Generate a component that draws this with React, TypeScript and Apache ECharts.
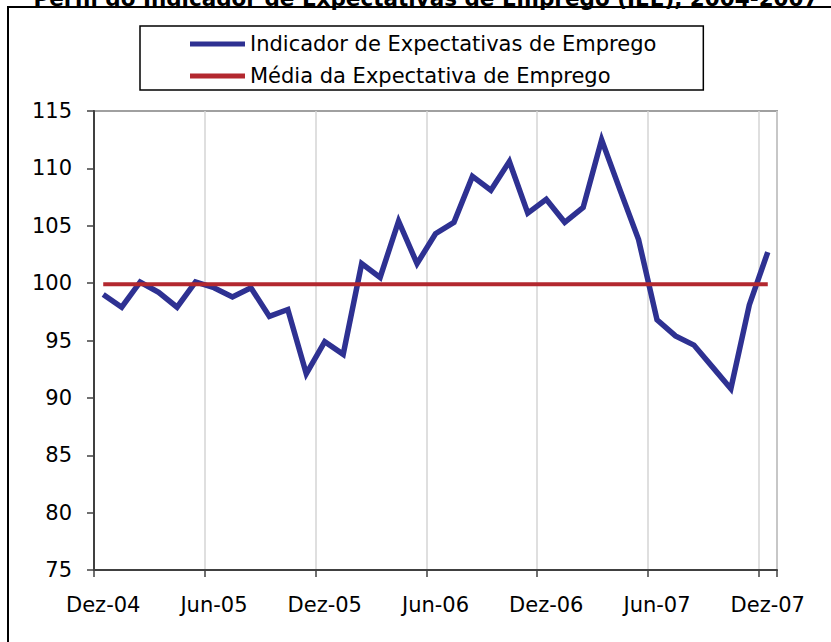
import React, { useEffect, useRef } from "react";
import * as echarts from "echarts";

const TITLE = "Perfil do Indicador de Expectativas de Emprego (IEE), 2004-2007";
const SERIES_NAMES = ["Indicador de Expectativas de Emprego", "Média da Expectativa de Emprego"];

const months = [
  "Dez-04",
  "Jan-05", "Fev-05", "Mar-05", "Abr-05", "Mai-05", "Jun-05",
  "Jul-05", "Ago-05", "Set-05", "Out-05", "Nov-05", "Dez-05",
  "Jan-06", "Fev-06", "Mar-06", "Abr-06", "Mai-06", "Jun-06",
  "Jul-06", "Ago-06", "Set-06", "Out-06", "Nov-06", "Dez-06",
  "Jan-07", "Fev-07", "Mar-07", "Abr-07", "Mai-07", "Jun-07",
  "Jul-07", "Ago-07", "Set-07", "Out-07", "Nov-07", "Dez-07",
];

const ieeValues = [
  99.0, 97.9, 100.1, 99.2, 97.9, 100.1, 99.6,
  98.8, 99.6, 97.1, 97.7, 92.1, 94.9,
  93.8, 101.7, 100.5, 105.4, 101.7, 104.3,
  105.3, 109.3, 108.1, 110.6, 106.1, 107.3,
  105.3, 106.6, 112.5, 108.1, 103.8, 96.8,
  95.4, 94.6, 92.7, 90.8, 98.1, 102.7,
];

const MEAN_VALUE = 99.9;
const meanValues = months.map(() => MEAN_VALUE);

const Y_MIN = 75;
const Y_MAX = 115;
const Y_STEP = 5;

export default function App() {
  const ref = useRef<HTMLDivElement>(null);

  useEffect(() => {
    if (!ref.current) return;
    const chart = echarts.init(ref.current, null, { renderer: "svg" });
    const font = "DejaVu Sans";
    chart.setOption({
      animation: false,
      backgroundColor: "#ffffff",
      textStyle: { fontFamily: font },
      graphic: [
        {
          type: "rect",
          shape: { x: 8, y: 7, width: 1000, height: 800 },
          style: { fill: "none", stroke: "#000000", lineWidth: 2 },
          silent: true,
        },
        {
          type: "text",
          x: 426,
          y: 9,
          style: {
            text: TITLE,
            font: `bold 21.5px ${font}`,
            fill: "#000000",
            align: "center",
            verticalAlign: "bottom",
          },
        },
      ],
      legend: {
        orient: "vertical",
        left: 140,
        top: 26,
        padding: [5, 47, 1, 50],
        borderColor: "#000000",
        borderWidth: 1.5,
        icon: "rect",
        itemWidth: 55,
        itemHeight: 5,
        itemGap: 6,
        itemTextGap: 8,
        textStyle: { fontSize: 21, color: "#000000", fontFamily: font, lineHeight: 26 },
        data: SERIES_NAMES,
      },
      grid: {
        left: 94,
        top: 111,
        right: 54,
        bottom: 72,
        show: true,
        borderColor: "#A0A0A0",
        borderWidth: 2,
        containLabel: false,
      },
      xAxis: {
        type: "category",
        data: months,
        boundaryGap: true,
        axisLine: { show: true, lineStyle: { color: "#404040", width: 2 } },
        axisTick: { show: true, interval: 5, length: 7, lineStyle: { color: "#404040", width: 1.5 } },
        axisLabel: { interval: 5, margin: 24, fontSize: 21, color: "#000000", fontFamily: font },
        splitLine: { show: true, interval: 5, lineStyle: { color: "#D4D4D4", width: 1.5 } },
      },
      yAxis: {
        type: "value",
        min: Y_MIN,
        max: Y_MAX,
        interval: Y_STEP,
        axisLine: { show: true, lineStyle: { color: "#404040", width: 2 } },
        axisTick: { show: true, inside: false, length: 7, lineStyle: { color: "#404040", width: 1.5 } },
        axisLabel: { margin: 22, fontSize: 21, color: "#000000", fontFamily: font },
        splitLine: { show: false },
      },
      series: [
        {
          name: SERIES_NAMES[0],
          type: "line",
          data: ieeValues,
          symbol: "none",
          z: 3,
          itemStyle: { color: "#2E3192" },
          lineStyle: { color: "#2E3192", width: 5.5, join: "miter" },
        },
        {
          name: SERIES_NAMES[1],
          type: "line",
          data: meanValues,
          symbol: "none",
          z: 4,
          itemStyle: { color: "#B3282F" },
          lineStyle: { color: "#B3282F", width: 4 },
        },
      ],
    });
    return () => chart.dispose();
  }, []);

  return (
    <div
      ref={ref}
      style={{ position: "absolute", left: 0, top: 0, width: 831, height: 642 }}
    />
  );
}
